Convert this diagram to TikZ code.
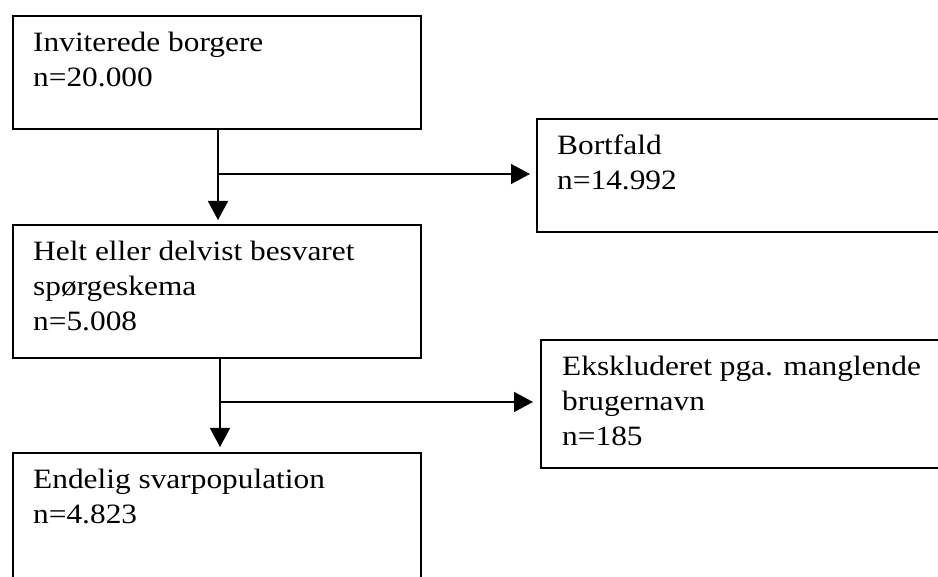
\documentclass[tikz,border=0pt]{standalone}
\usepackage{fontspec}
\setmainfont{Liberation Serif}[FakeStretch=1.12]
\usepackage{tikz}
\usetikzlibrary{arrows.meta,calc,positioning}

\begin{document}
\begin{tikzpicture}[
      x=1pt, y=-1pt,
      box/.style={rectangle,draw,line width=1.8pt,anchor=north west,inner sep=0pt},
      txt/.style={anchor=north west,align=left,inner sep=0pt,font=\fontsize{28}{35}\selectfont},
      flow/.style={line width=1.4pt},
      >={Triangle[length=19pt,width=20pt]}
    ]
    \useasboundingbox (0,0) rectangle (938,577);

    % left column
    \node[box,minimum width=408pt,minimum height=113pt] (invited) at (12,15) {};
    \node[box,minimum width=408pt,minimum height=133pt] (answered) at (12,224) {};
    \node[box,minimum width=408pt,minimum height=150pt] (final) at (12,452) {};

    % right column (runs off the page)
    \node[box,minimum width=424pt,minimum height=113pt] (dropout) at (536,118) {};
    \node[box,minimum width=420pt,minimum height=128pt] (excluded) at (540,339) {};

    \node[txt] (invitedtxt) at ([shift={(21,11.5)}]invited.north west) {\strut Inviterede borgere\\n=20.000};
    \node[txt] (answeredtxt) at ([shift={(21,11.5)}]answered.north west) {\strut Helt eller delvist besvaret\\spørgeskema\\n=5.008};
    \node[txt] (finaltxt) at ([shift={(21,11.5)}]final.north west) {\strut Endelig svarpopulation\\n=4.823};
    \node[txt] (dropouttxt) at ([shift={(21,11.5)}]dropout.north west) {\strut Bortfald\\n=14.992};
    \node[txt] (excludedtxt) at ([shift={(22,11.5)}]excluded.north west) {\strut Ekskluderet pga. manglende\\brugernavn\\n=185};

    \coordinate (split1) at (218,174);
    \coordinate (split2) at (220,402);

    \draw[flow,->,shorten >=4pt] (invited.south -| split1) -- (answered.north -| split1);
    \draw[flow,->,shorten >=6pt] (split1) -- (split1 -| dropout.west);
    \draw[flow,->,shorten >=5pt] (answered.south -| split2) -- (final.north -| split2);
    \draw[flow,->,shorten >=7pt] (split2) -- (split2 -| excluded.west);
  \end{tikzpicture}
\end{document}
